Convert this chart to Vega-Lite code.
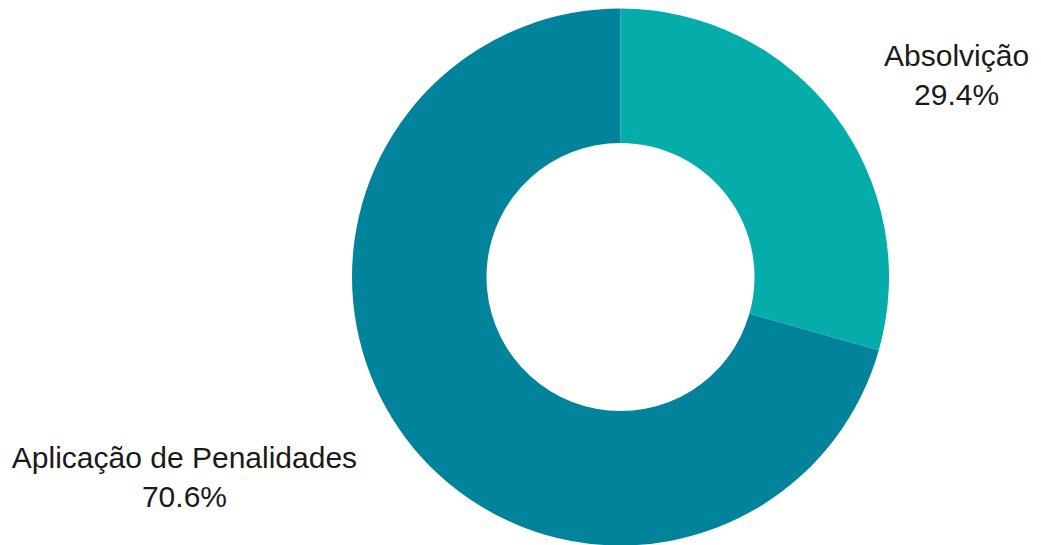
{
  "$schema": "https://vega.github.io/schema/vega-lite/v6.json",
  "width": 841,
  "height": 536,
  "padding": {"left": 200, "top": 9, "right": 0, "bottom": 0},
  "autosize": {"type": "none"},
  "background": "white",
  "config": {"view": {"stroke": null}},
  "data": {
    "values": [
      {"categoria": "Absolvição", "valor": 29.4, "rotulo": "Absolvição\n29.4%"},
      {"categoria": "Aplicação de Penalidades", "valor": 70.6, "rotulo": "Aplicação de Penalidades\n70.6%"}
    ]
  },
  "encoding": {
    "theta": {"field": "valor", "type": "quantitative", "stack": true},
    "color": {
      "field": "categoria",
      "type": "nominal",
      "scale": {"domain": ["Absolvição", "Aplicação de Penalidades"], "range": ["#04ADAA", "#01839C"]},
      "legend": null
    }
  },
  "layer": [
    {"mark": {"type": "arc", "innerRadius": 134, "outerRadius": 268.5}},
    {
      "mark": {"type": "text", "radius": 300, "font": "Liberation Sans", "fontSize": 30, "lineBreak": "\n", "lineHeight": 39, "align": "center", "baseline": "alphabetic", "dx": 96.7, "dy": -30, "color": "#1a1a1a"},
      "encoding": {
        "text": {"condition": {"test": "datum.categoria === 'Absolvição'", "field": "rotulo"}, "value": ""},
        "color": {"value": "#1a1a1a"}
      }
    },
    {
      "mark": {"type": "text", "radius": 300, "font": "Liberation Sans", "fontSize": 30, "lineBreak": "\n", "lineHeight": 39, "align": "center", "baseline": "alphabetic", "dx": -196.7, "dy": 10, "color": "#1a1a1a"},
      "encoding": {
        "text": {"condition": {"test": "datum.categoria !== 'Absolvição'", "field": "rotulo"}, "value": ""},
        "color": {"value": "#1a1a1a"}
      }
    }
  ]
}
